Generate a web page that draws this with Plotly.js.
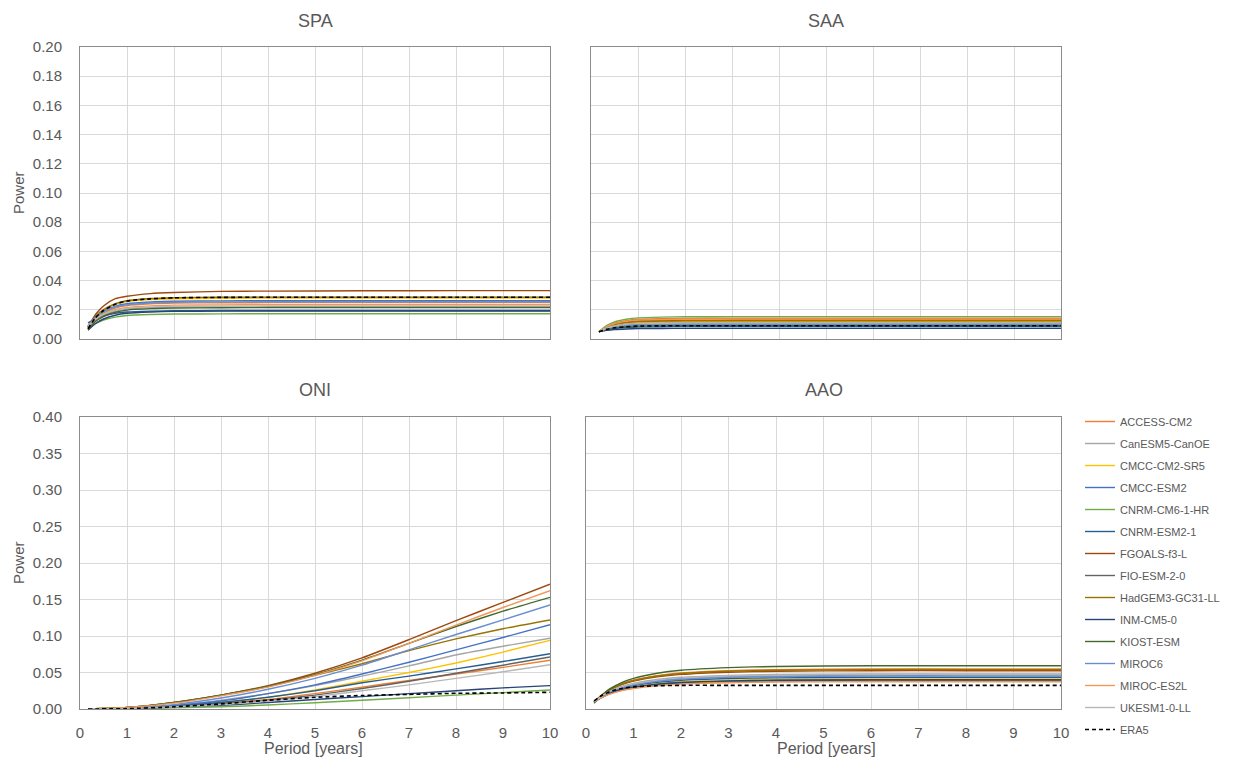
<!DOCTYPE html>
<html><head><meta charset="utf-8">
<script src="https://cdn.plot.ly/plotly-3.0.1.min.js"></script>
<style>html,body{margin:0;padding:0;background:#fff}#chart{width:1233px;height:760px}</style>
</head><body><div id="chart"></div>
<script>
// ---------- DATA ----------
const models = ["ACCESS-CM2","CanESM5-CanOE","CMCC-CM2-SR5","CMCC-ESM2","CNRM-CM6-1-HR","CNRM-ESM2-1","FGOALS-f3-L","FIO-ESM-2-0","HadGEM3-GC31-LL","INM-CM5-0","KIOST-ESM","MIROC6","MIROC-ES2L","UKESM1-0-LL","ERA5"];
const periodSat = [0.17, 0.33, 0.5, 0.75, 1, 1.5, 2, 3, 4, 6, 8, 10];
const periodOni = [0.17, 1, 2, 3, 4, 5, 6, 7, 8, 9, 10];
const xTicks = [0,1,2,3,4,5,6,7,8,9,10];

const spaPower = [
 [.0080,.0139,.0178,.0212,.0229,.0241,.0246,.0248,.0249,.0249,.0249,.0249],
 [.0090,.0158,.0203,.0242,.0262,.0275,.0281,.0284,.0285,.0285,.0285,.0285],
 [.0080,.0150,.0196,.0236,.0256,.0270,.0276,.0279,.0280,.0280,.0280,.0281],
 [.0090,.0150,.0190,.0224,.0241,.0253,.0259,.0261,.0262,.0262,.0262,.0262],
 [.0070,.0106,.0130,.0150,.0161,.0168,.0171,.0172,.0173,.0173,.0173,.0173],
 [.0110,.0140,.0159,.0176,.0185,.0191,.0193,.0195,.0195,.0195,.0195,.0195],
 [.0080,.0168,.0226,.0276,.0293,.0311,.0318,.0326,.0328,.0330,.0331,.0331],
 [.0080,.0130,.0162,.0191,.0205,.0215,.0219,.0221,.0222,.0222,.0222,.0222],
 [.0080,.0152,.0200,.0241,.0262,.0277,.0283,.0286,.0287,.0287,.0287,.0287],
 [.0060,.0106,.0137,.0163,.0176,.0185,.0189,.0191,.0192,.0192,.0192,.0192],
 [.0070,.0121,.0154,.0183,.0198,.0208,.0212,.0214,.0215,.0215,.0215,.0215],
 [.0090,.0148,.0186,.0219,.0235,.0247,.0252,.0254,.0255,.0255,.0255,.0255],
 [.0080,.0134,.0170,.0201,.0216,.0227,.0232,.0234,.0235,.0235,.0235,.0235],
 [.0090,.0137,.0168,.0195,.0209,.0218,.0222,.0224,.0225,.0225,.0225,.0225],
 [.0070,.0146,.0195,.0238,.0260,.0275,.0282,.0285,.0286,.0286,.0286,.0286]
];
const saaPower = [
 [.0050,.0087,.0110,.0126,.0135,.0139,.0141,.0142,.0142,.0142,.0142,.0142],
 [.0050,.0076,.0092,.0104,.0110,.0113,.0114,.0115,.0115,.0115,.0115,.0115],
 [.0050,.0079,.0097,.0110,.0116,.0120,.0121,.0122,.0122,.0122,.0122,.0122],
 [.0050,.0072,.0086,.0096,.0101,.0103,.0104,.0105,.0105,.0105,.0105,.0105],
 [.0050,.0091,.0117,.0135,.0145,.0150,.0152,.0153,.0153,.0153,.0153,.0153],
 [.0050,.0064,.0073,.0079,.0082,.0084,.0085,.0085,.0085,.0085,.0085,.0085],
 [.0050,.0082,.0102,.0116,.0124,.0128,.0129,.0130,.0130,.0130,.0130,.0130],
 [.0050,.0069,.0081,.0090,.0094,.0097,.0098,.0098,.0098,.0098,.0098,.0098],
 [.0050,.0080,.0099,.0112,.0119,.0123,.0124,.0125,.0125,.0125,.0125,.0125],
 [.0050,.0059,.0065,.0069,.0071,.0072,.0073,.0073,.0073,.0073,.0073,.0073],
 [.0050,.0067,.0078,.0086,.0090,.0092,.0093,.0093,.0093,.0093,.0093,.0093],
 [.0050,.0070,.0083,.0092,.0096,.0099,.0100,.0100,.0100,.0100,.0100,.0100],
 [.0050,.0084,.0106,.0121,.0129,.0133,.0135,.0136,.0136,.0136,.0136,.0136],
 [.0050,.0074,.0089,.0100,.0105,.0108,.0109,.0110,.0110,.0110,.0110,.0110],
 [.0050,.0066,.0077,.0084,.0088,.0090,.0091,.0091,.0091,.0091,.0091,.0091]
];
const oniPower = [
 [0,.0010,.0040,.0080,.0130,.0210,.0300,.0390,.0480,.0570,.0667],
 [0,.0010,.0050,.0120,.0210,.0320,.0450,.0590,.0740,.0860,.0970],
 [0,.0010,.0040,.0090,.0160,.0260,.0380,.0500,.0630,.0780,.0940],
 [0,.0010,.0050,.0110,.0210,.0330,.0480,.0640,.0810,.0980,.1155],
 [0,.0002,.0015,.0030,.0055,.0085,.0120,.0155,.0190,.0225,.0260],
 [0,.0010,.0040,.0090,.0160,.0250,.0360,.0450,.0550,.0650,.0758],
 [0,.0020,.0090,.0190,.0320,.0490,.0700,.0950,.1210,.1460,.1710],
 [0,.0005,.0030,.0070,.0120,.0190,.0280,.0380,.0490,.0600,.0712],
 [0,.0020,.0090,.0190,.0310,.0460,.0620,.0800,.0960,.1100,.1220],
 [0,.0005,.0030,.0050,.0090,.0130,.0170,.0210,.0250,.0290,.0320],
 [0,.0020,.0090,.0190,.0310,.0470,.0670,.0900,.1130,.1340,.1530],
 [0,.0010,.0060,.0150,.0270,.0420,.0600,.0810,.1020,.1220,.1425],
 [0,.0020,.0080,.0180,.0300,.0460,.0660,.0900,.1150,.1390,.1620],
 [0,.0005,.0030,.0060,.0110,.0170,.0250,.0330,.0420,.0510,.0607],
 [0,.0005,.0030,.0070,.0120,.0160,.0185,.0200,.0215,.0220,.0229]
];
const aaoPower = [
 [.0100,.0190,.0270,.0346,.0396,.0458,.0494,.0526,.0539,.0548,.0548,.0548],
 [.0100,.0176,.0244,.0309,.0351,.0404,.0434,.0461,.0472,.0480,.0480,.0480],
 [.0100,.0162,.0218,.0271,.0305,.0348,.0373,.0395,.0404,.0410,.0410,.0410],
 [.0100,.0172,.0237,.0298,.0338,.0388,.0417,.0442,.0453,.0460,.0460,.0460],
 [.0100,.0157,.0208,.0257,.0288,.0328,.0351,.0371,.0379,.0385,.0385,.0385],
 [.0100,.0167,.0227,.0284,.0320,.0367,.0394,.0417,.0427,.0434,.0434,.0434],
 [.0100,.0185,.0262,.0334,.0381,.0440,.0474,.0504,.0517,.0525,.0525,.0525],
 [.0100,.0159,.0213,.0263,.0296,.0338,.0361,.0382,.0391,.0397,.0397,.0397],
 [.0100,.0188,.0267,.0342,.0390,.0452,.0487,.0518,.0531,.0540,.0540,.0540],
 [.0100,.0160,.0214,.0265,.0298,.0340,.0364,.0385,.0394,.0400,.0400,.0400],
 [.0080,.0183,.0275,.0362,.0419,.0490,.0531,.0567,.0583,.0593,.0593,.0593],
 [.0100,.0170,.0233,.0293,.0331,.0380,.0408,.0433,.0443,.0450,.0450,.0450],
 [.0100,.0155,.0204,.0251,.0281,.0319,.0341,.0360,.0369,.0374,.0374,.0374],
 [.0100,.0174,.0241,.0304,.0344,.0396,.0426,.0452,.0463,.0470,.0470,.0470],
 [.0110,.0185,.0238,.0281,.0303,.0318,.0324,.0324,.0324,.0324,.0324,.0324]
];
const panelTitles = ["SPA","SAA","ONI","AAO"];

// ---------- STYLE ----------
const colors = ["#ED7D31","#A5A5A5","#FFC000","#4472C4","#70AD47","#255E91","#9E480E","#636363","#997300","#264478","#43682B","#698ED0","#F1975A","#B7B7B7","#000000"];
const FONT = "Liberation Sans, Arial, sans-serif";
const TXT = "#595959";
const W = 1233, H = 760;
const px = v => v / W, py = v => 1 - v / H;

const panels = [
  {data: spaPower, x: periodSat, xa: "x",  ya: "y"},
  {data: saaPower, x: periodSat, xa: "x2", ya: "y2"},
  {data: oniPower, x: periodOni, xa: "x3", ya: "y3"},
  {data: aaoPower, x: periodSat, xa: "x4", ya: "y4"}
];

const traces = [];
panels.forEach((p, pi) => {
  models.forEach((m, i) => {
    const era = m === "ERA5";
    traces.push({
      type: "scatter", mode: "lines",
      x: p.x, y: p.data[i], xaxis: p.xa, yaxis: p.ya,
      name: m, legendgroup: m, showlegend: pi === 2,
      line: {color: colors[i], width: era ? 1.6 : 1.4, dash: era ? "4px,3px" : "solid", shape: "spline", smoothing: 0.6},
      hoverinfo: "name+x+y"
    });
  });
});

function xax(d0, d1, anchor, labels) {
  return {domain: [px(d0), px(d1)], anchor: anchor, range: [0, 10], tickvals: xTicks,
    showticklabels: labels, ticks: "", ticklabelstandoff: 10,
    tickfont: {family: FONT, size: 15, color: TXT},
    showgrid: true, gridcolor: "#D9D9D9", gridwidth: 1, zeroline: false,
    showline: true, linecolor: "#8C8C8C", linewidth: 1, mirror: true, fixedrange: true};
}
function yax(t0, t1, anchor, max, dt, labels) {
  return {domain: [py(t1), py(t0)], anchor: anchor, range: [0, max], dtick: dt, tick0: 0,
    tickformat: ".2f", showticklabels: labels, ticks: "", ticklabelstandoff: 14,
    tickfont: {family: FONT, size: 15, color: TXT},
    showgrid: true, gridcolor: "#D9D9D9", gridwidth: 1, zeroline: false,
    showline: true, linecolor: "#8C8C8C", linewidth: 1, mirror: true, fixedrange: true};
}

const titleFont = {family: FONT, size: 18, color: TXT};
const axTitleFont = {family: FONT, size: 15, color: TXT};
function note(text, x, y, font, angle) {
  return {text: text, x: px(x), y: py(y), xref: "paper", yref: "paper", xanchor: "center", yanchor: "middle",
    showarrow: false, font: font, textangle: angle || 0};
}
const annotations = [
  note(panelTitles[0], 315, 21, titleFont),
  note(panelTitles[1], 826, 21, titleFont),
  note(panelTitles[2], 315, 390, titleFont),
  note(panelTitles[3], 824, 390, titleFont),
  note("Power", 18, 193, axTitleFont, -90),
  note("Power", 18, 563, axTitleFont, -90),
  note("Period [years]", 313, 748, {family: FONT, size: 16, color: TXT}),
  note("Period [years]", 826, 748, {family: FONT, size: 16, color: TXT})
];

const layout = {
  width: W, height: H, margin: {l: 0, r: 0, t: 0, b: 0},
  paper_bgcolor: "#fff", plot_bgcolor: "#fff",
  font: {family: FONT, color: TXT},
  xaxis:  xax(80, 550, "y", false),
  yaxis:  yax(47, 339, "x", 0.2, 0.02, true),
  xaxis2: xax(591, 1061, "y2", false),
  yaxis2: yax(47, 339, "x2", 0.2, 0.02, false),
  xaxis3: xax(80, 550, "y3", true),
  yaxis3: yax(417, 709, "x3", 0.4, 0.05, true),
  xaxis4: xax(586, 1061, "y4", true),
  yaxis4: yax(417, 709, "x4", 0.4, 0.05, false),
  showlegend: true,
  legend: {x: px(1080), y: py(407), xanchor: "left", yanchor: "top", traceorder: "grouped",
    font: {family: FONT, size: 11, color: TXT}, bgcolor: "rgba(0,0,0,0)", tracegroupgap: 3, itemwidth: 30},
  annotations: annotations
};

Plotly.newPlot("chart", traces, layout, {displayModeBar: false, staticPlot: true});
</script>
</body></html>
